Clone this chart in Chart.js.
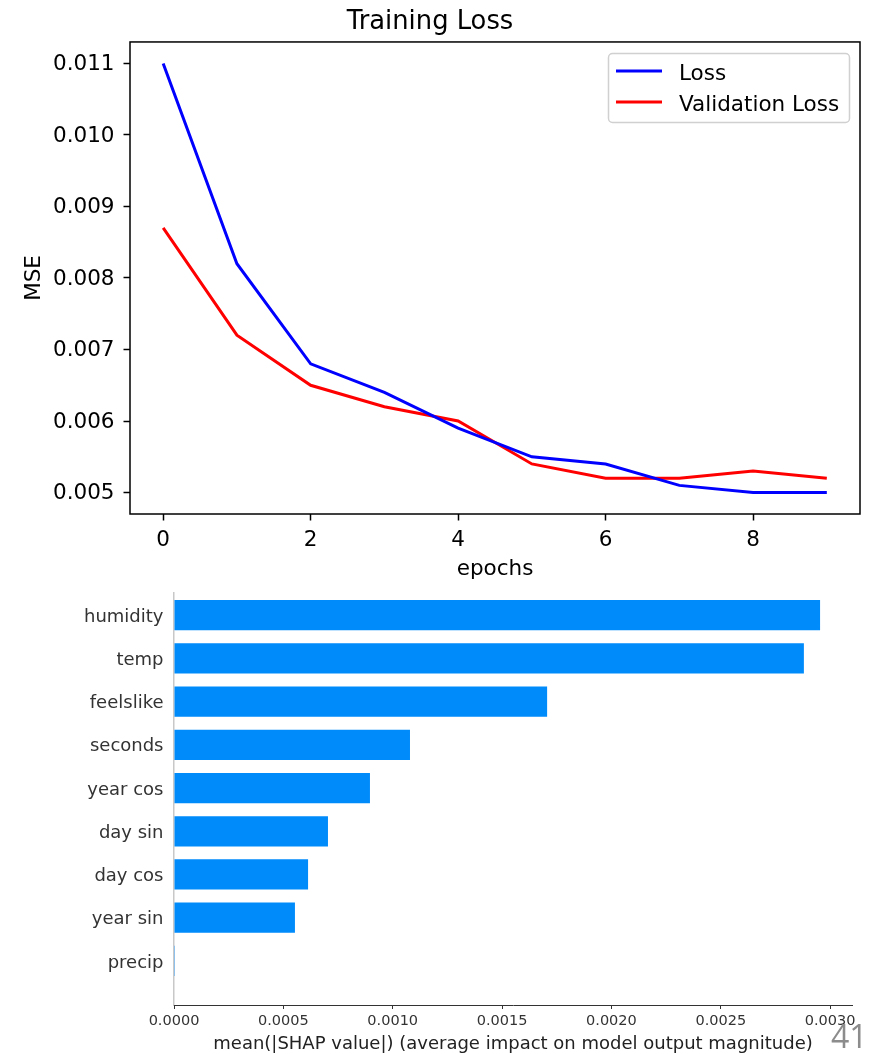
<!DOCTYPE html>
<html>
<head>
<meta charset="utf-8">
<title>Training Loss and feature importance</title>
<script src="https://cdn.jsdelivr.net/npm/chart.js@4/dist/chart.umd.min.js"></script>
<style>
  html, body { margin: 0; padding: 0; background: #fff; width: 877px; height: 1054px; overflow: hidden; }
  #loss { position: absolute; left: 0; top: 0; }
  #shap { position: absolute; left: 0; top: 585px; }
  #page { position: absolute; left: 831px; top: 1020px; font: 32px 'Open Sans', sans-serif; color: #8c8c8c; line-height: 32px; }
</style>
</head>
<body>
<canvas id="loss" width="877" height="585"></canvas>
<canvas id="shap" width="877" height="480"></canvas>
<div id="page">41</div>
<script>
// ---- training history ----
const epochs = [0, 1, 2, 3, 4, 5, 6, 7, 8, 9];
const loss = [0.0110, 0.0082, 0.0068, 0.0064, 0.0059, 0.0055, 0.0054, 0.0051, 0.0050, 0.0050];
const valLoss = [0.0087, 0.0072, 0.0065, 0.0062, 0.0060, 0.0054, 0.0052, 0.0052, 0.0053, 0.0052];
const epochTicks = [0, 2, 4, 6, 8];
const mseTicks = [0.005, 0.006, 0.007, 0.008, 0.009, 0.010, 0.011];

// ---- mean |SHAP| per feature ----
const features = ['humidity', 'temp', 'feelslike', 'seconds', 'year cos', 'day sin', 'day cos', 'year sin', 'precip'];
const meanAbsShap = [0.002954, 0.002880, 0.001706, 0.001079, 0.000896, 0.000704, 0.000613, 0.000553, 0.000004];
const shapTicks = [0, 0.0005, 0.0010, 0.0015, 0.0020, 0.0025, 0.0030];

const FAMILY = "'DejaVu Sans', sans-serif";

// box around the plot area (all four spines)
const frame = {
  id: 'frame',
  afterDatasetsDraw(chart) {
    const a = chart.chartArea, ctx = chart.ctx;
    ctx.save();
    ctx.strokeStyle = '#000';
    ctx.lineWidth = 1.5;
    ctx.strokeRect(a.left, a.top, a.right - a.left, a.bottom - a.top);
    ctx.restore();
  }
};

// legend drawn inside the upper-right corner of the plot
const insetLegend = {
  id: 'insetLegend',
  afterDraw(chart) {
    const ctx = chart.ctx;
    ctx.save();
    ctx.beginPath();
    ctx.roundRect(608.5, 53.5, 241, 69, 4);
    ctx.fillStyle = 'rgba(255,255,255,0.8)';
    ctx.fill();
    ctx.strokeStyle = '#d0d0d0';
    ctx.lineWidth = 1.5;
    ctx.stroke();
    chart.data.datasets.forEach((ds, i) => {
      const y = 71 + i * 31;
      ctx.beginPath();
      ctx.moveTo(616, y);
      ctx.lineTo(662, y);
      ctx.strokeStyle = ds.borderColor;
      ctx.lineWidth = 3;
      ctx.stroke();
      ctx.fillStyle = '#000';
      ctx.font = '21.5px ' + FAMILY;
      ctx.textBaseline = 'alphabetic';
      ctx.textAlign = 'left';
      ctx.fillText(ds.label, 679, y + 8.5);
    });
    ctx.restore();
  }
};

new Chart(document.getElementById('loss'), {
  type: 'line',
  data: {
    datasets: [
      {
        label: 'Loss',
        data: epochs.map((e, i) => ({ x: e, y: loss[i] })),
        borderColor: '#0000ff',
        borderWidth: 3,
        pointRadius: 0,
        tension: 0,
        fill: false
      },
      {
        label: 'Validation Loss',
        data: epochs.map((e, i) => ({ x: e, y: valLoss[i] })),
        borderColor: '#ff0000',
        borderWidth: 3,
        pointRadius: 0,
        tension: 0,
        fill: false
      }
    ]
  },
  options: {
    responsive: false,
    animation: false,
    devicePixelRatio: 1,
    layout: { padding: { left: 0, right: 17, top: 0, bottom: 0 } },
    plugins: {
      legend: { display: false },
      tooltip: { enabled: false },
      title: {
        display: true,
        text: 'Training Loss',
        color: '#000',
        font: { family: FAMILY, size: 25.8, weight: 'normal', lineHeight: 1.2 },
        padding: { top: 7, bottom: 4 }
      }
    },
    scales: {
      x: {
        type: 'linear',
        min: -0.45,
        max: 9.45,
        afterBuildTicks: a => { a.ticks = epochTicks.map(v => ({ value: v })); },
        afterFit: a => { a.height = 71; },
        grid: { display: true, drawOnChartArea: false, drawTicks: true, tickLength: 6.5, tickWidth: 1.5, tickColor: '#000' },
        border: { display: false },
        ticks: { color: '#000', font: { family: FAMILY, size: 21.5 }, padding: 7, maxRotation: 0, autoSkip: false, callback: v => String(v) },
        title: { display: true, text: 'epochs', color: '#000', font: { family: FAMILY, size: 21.5, lineHeight: 1.2 }, padding: { top: 0, bottom: 3 } }
      },
      y: {
        type: 'linear',
        min: 0.0047,
        max: 0.0113,
        afterBuildTicks: a => { a.ticks = mseTicks.map(v => ({ value: v })); },
        afterFit: a => { a.width = 130; },
        grid: { display: true, drawOnChartArea: false, drawTicks: true, tickLength: 6.5, tickWidth: 1.5, tickColor: '#000' },
        border: { display: false },
        ticks: { color: '#000', font: { family: FAMILY, size: 21.5 }, padding: 9, labelOffset: 1, autoSkip: false, callback: v => v.toFixed(3) },
        title: { display: true, text: 'MSE', color: '#000', font: { family: FAMILY, size: 21.5, lineHeight: 1.2 }, padding: { top: 22, bottom: 0 } }
      }
    }
  },
  plugins: [frame, insetLegend]
});

new Chart(document.getElementById('shap'), {
  type: 'bar',
  data: {
    datasets: [{
      data: features.map((f, i) => ({ x: meanAbsShap[i], y: i })),
      backgroundColor: '#008bfb',
      borderWidth: 0,
      categoryPercentage: 1,
      barPercentage: 0.7
    }]
  },
  options: {
    indexAxis: 'y',
    responsive: false,
    animation: false,
    devicePixelRatio: 1,
    layout: { padding: { left: 0, right: 25, top: 7.7, bottom: 0 } },
    plugins: { legend: { display: false }, tooltip: { enabled: false } },
    scales: {
      y: {
        type: 'linear',
        reverse: true,
        offset: false,
        min: -0.52,
        max: 9.02,
        afterBuildTicks: a => { a.ticks = features.map((f, i) => ({ value: i })); },
        afterFit: a => { a.width = 174; a.paddingTop = 0; a.paddingBottom = 0; },
        grid: { display: false, drawTicks: false },
        border: { display: true, color: '#c8c8c8', width: 1.5 },
        ticks: { color: '#333', font: { family: FAMILY, size: 18 }, padding: 10.5, labelOffset: 2, autoSkip: false, callback: v => features[v] ?? '' }
      },
      x: {
        type: 'linear',
        min: 0,
        max: 0.0031,
        afterBuildTicks: a => { a.ticks = shapTicks.map(v => ({ value: v })); },
        afterFit: a => { a.height = 60; },
        grid: { display: true, drawOnChartArea: false, drawTicks: true, tickLength: 4, tickWidth: 1, tickColor: '#333' },
        border: { display: true, color: '#333', width: 1 },
        ticks: { color: '#333', font: { family: FAMILY, size: 14.5 }, padding: 3.5, maxRotation: 0, autoSkip: false, callback: v => v.toFixed(4) },
        title: {
          display: true,
          text: 'mean(|SHAP value|) (average impact on model output magnitude)',
          color: '#222',
          font: { family: FAMILY, size: 18, lineHeight: 1.2 },
          padding: { top: 0, bottom: 9.8 }
        }
      }
    }
  }
});
</script>
</body>
</html>
